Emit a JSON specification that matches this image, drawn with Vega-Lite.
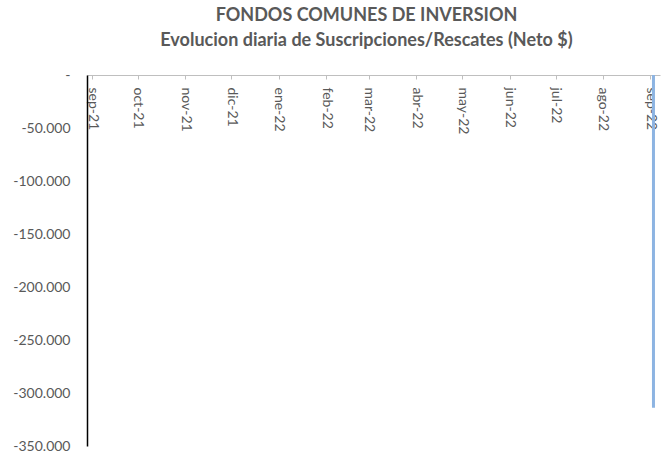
{
  "$schema": "https://vega.github.io/schema/vega-lite/v6.json",
  "width": 573,
  "height": 371,
  "autosize": {"type": "none"},
  "padding": {"left": 87, "top": 75, "right": 12, "bottom": 8},
  "background": "white",
  "config": {
    "view": {"stroke": null},
    "locale": {
      "number": {"decimal": ",", "thousands": ".", "grouping": [3], "currency": ["$", ""], "minus": "-"}
    }
  },
  "title": {
    "text": ["FONDOS COMUNES DE INVERSION", "Evolucion diaria de Suscripciones/Rescates (Neto $)"],
    "font": "Lato",
    "fontSize": 18,
    "fontWeight": "bold",
    "color": "#595959",
    "anchor": "middle",
    "frame": "group",
    "lineHeight": 25,
    "offset": 18,
    "dx": -7
  },
  "data": {
    "values": [
      {"fecha": "2022-09-03", "neto": -314000}
    ]
  },
  "mark": {"type": "bar", "color": "#8db4e2", "size": 3},
  "encoding": {
    "x": {
      "field": "fecha",
      "type": "temporal",
      "scale": {"type": "utc", "domain": ["2021-09-01", "2022-09-04"]},
      "axis": {
        "orient": "bottom",
        "offset": -371,
        "title": null,
        "grid": false,
        "tickCount": {"interval": "month", "step": 1},
        "labelExpr": "['ene','feb','mar','abr','may','jun','jul','ago','sep','oct','nov','dic'][utcmonth(datum.value)] + '-' + utcFormat(datum.value, '%y')",
        "labelAngle": 90,
        "labelFont": "Lato",
        "labelFontSize": 14,
        "labelColor": "#595959",
        "labelPadding": 8,
        "labelOverlap": false,
        "labelFlush": false,
        "domainColor": "#bfbfbf",
        "tickColor": "#bfbfbf",
        "tickSize": 4
      }
    },
    "y": {
      "field": "neto",
      "type": "quantitative",
      "scale": {"domain": [-350000, 0], "nice": false},
      "axis": {
        "title": null,
        "grid": false,
        "ticks": false,
        "values": [0, -50000, -100000, -150000, -200000, -250000, -300000, -350000],
        "labelExpr": "datum.value == 0 ? '-\u00a0\u00a0\u00a0' : format(datum.value, ',d')",
        "labelFont": "Lato",
        "labelFontSize": 14,
        "labelColor": "#595959",
        "labelPadding": 17,
        "domainColor": "#000000",
        "domainWidth": 1.5
      }
    }
  }
}
